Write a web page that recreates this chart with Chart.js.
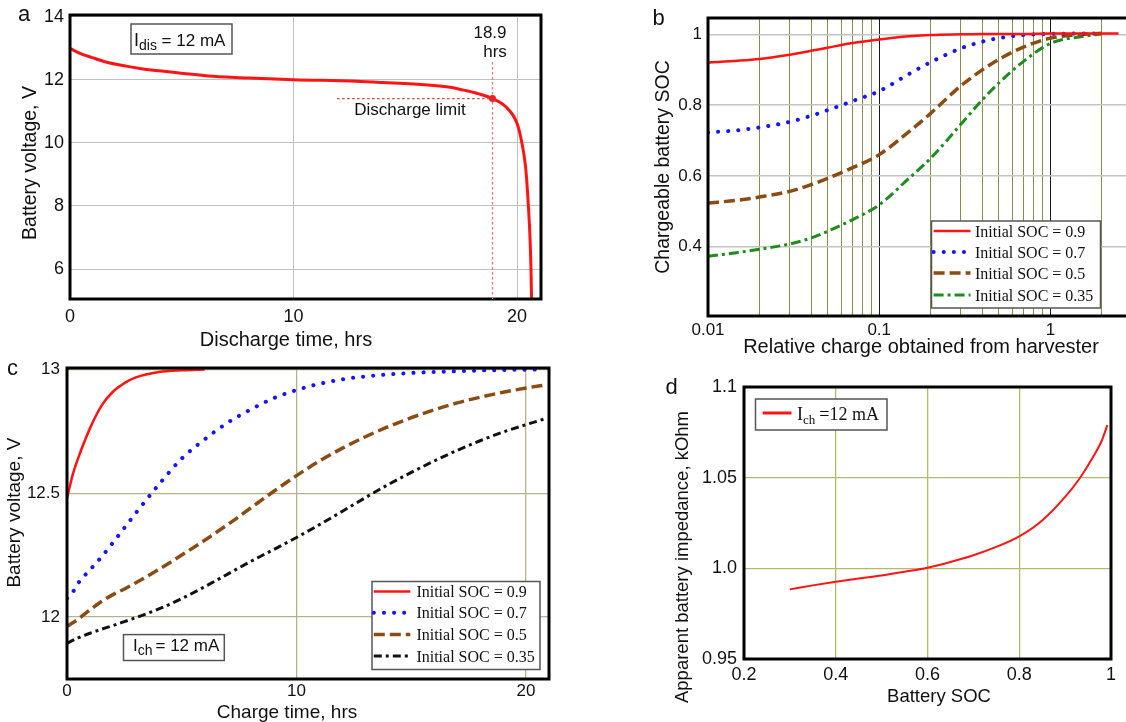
<!DOCTYPE html>
<html>
<head>
<meta charset="utf-8">
<script src="https://cdn.jsdelivr.net/npm/chart.js@4.4.1/dist/chart.umd.min.js"></script>
<style>
  html, body { margin: 0; padding: 0; background: #fff; }
  body { width: 1126px; height: 722px; overflow: hidden; position: relative; }
  canvas { position: absolute; }
</style>
</head>
<body>
<canvas id="panel-a" width="560" height="355" style="left:0;top:0"></canvas>
<canvas id="panel-b" width="580" height="362" style="left:560px;top:0"></canvas>
<canvas id="panel-c" width="560" height="367" style="left:0;top:355px"></canvas>
<canvas id="panel-d" width="566" height="367" style="left:560px;top:355px"></canvas>
<script>
"use strict";

/* ---------- a: discharge at 12 mA ---------- */
const dischargeTime = [0, 0.5, 1, 1.6, 2.5, 3.2, 4, 4.8, 6.4, 8, 10, 12.8, 14, 16, 17, 17.6, 18.3, 18.9, 19.5, 20, 20.22, 20.38, 20.49, 20.57, 20.62, 20.65];
const dischargeVoltage = [12.99, 12.82, 12.7, 12.56, 12.43, 12.35, 12.28, 12.22, 12.11, 12.05, 12.0, 11.95, 11.91, 11.83, 11.76, 11.67, 11.55, 11.40, 11.14, 10.61, 9.98, 9.24, 8.19, 7.13, 6.08, 5.0];
const limitTime = 18.9;
const limitVoltage = 11.4;
const limitLineStart = 11.95;
const aXTicks = [0, 10, 20];
const aYTicks = [6, 8, 10, 12, 14];

/* ---------- b: SOC vs relative harvested charge ---------- */
const harvestCharge = [0.01, 0.015, 0.02, 0.03, 0.04, 0.05, 0.07, 0.1, 0.15, 0.2, 0.3, 0.4, 0.5, 0.7, 1, 1.5, 2, 2.5];
const socFrom90 = [0.921, 0.926, 0.931, 0.943, 0.954, 0.963, 0.976, 0.986, 0.995, 0.999, 1.001, 1.002, 1.002, 1.002, 1.003, 1.003, 1.003, 1.003];
const socFrom70 = [0.723, 0.729, 0.737, 0.753, 0.770, 0.786, 0.812, 0.840, 0.889, 0.922, 0.961, 0.980, 0.990, 0.999, 1.002, 1.003, 1.003, null];
const socFrom50 = [0.523, 0.531, 0.540, 0.556, 0.575, 0.593, 0.623, 0.660, 0.726, 0.777, 0.855, 0.900, 0.930, 0.965, 0.990, 1.000, 1.004, null];
const socFrom35 = [0.372, 0.383, 0.392, 0.407, 0.424, 0.443, 0.476, 0.518, 0.594, 0.650, 0.746, 0.815, 0.863, 0.925, 0.975, 0.994, 1.002, null];
const bXTicks = [0.01, 0.1, 1];
const bYTicks = [0.4, 0.6, 0.8, 1];
const socLabels = ["Initial SOC = 0.9", "Initial SOC = 0.7", "Initial SOC = 0.5", "Initial SOC = 0.35"];

/* ---------- c: charging at 12 mA ---------- */
const chargeTime = [0, 0.25, 0.5, 1, 1.5, 2, 2.5, 3, 4, 5, 6, 7, 8, 9, 10, 11, 12, 13, 14, 15, 16, 17, 18, 19, 20, 20.8];
const voltFrom90 = [12.48, 12.575, 12.645, 12.762, 12.853, 12.91, 12.945, 12.968, 12.99, 12.997, 13.0, null, null, null, null, null, null, null, null, null, null, null, null, null, null, null];
const voltFrom70 = [12.075, 12.1, 12.138, 12.19, 12.242, 12.3, 12.36, 12.42, 12.535, 12.64, 12.718, 12.785, 12.838, 12.884, 12.917, 12.942, 12.96, 12.972, 12.98, 12.986, 12.99, 12.993, 12.996, 12.998, 12.999, 13.0];
const voltFrom50 = [11.962, 11.976, 11.992, 12.028, 12.062, 12.09, 12.113, 12.138, 12.192, 12.25, 12.31, 12.373, 12.44, 12.507, 12.571, 12.63, 12.682, 12.728, 12.769, 12.805, 12.837, 12.865, 12.888, 12.908, 12.925, 12.937];
const voltFrom35 = [11.893, 11.905, 11.916, 11.934, 11.95, 11.965, 11.981, 11.997, 12.032, 12.074, 12.122, 12.173, 12.224, 12.272, 12.321, 12.373, 12.427, 12.482, 12.535, 12.584, 12.63, 12.673, 12.712, 12.747, 12.777, 12.8];
const cXTicks = [0, 10, 20];
const cYTicks = [12, 12.5, 13];

/* ---------- d: apparent impedance ---------- */
const batterySoc = [0.3, 0.35, 0.4, 0.45, 0.5, 0.55, 0.6, 0.65, 0.7, 0.75, 0.8, 0.85, 0.9, 0.93, 0.96, 0.98, 0.992];
const impedance = [0.9884, 0.9906, 0.9926, 0.9944, 0.9961, 0.9981, 1.0003, 1.0035, 1.0072, 1.0118, 1.0176, 1.0264, 1.0394, 1.049, 1.061, 1.0705, 1.079];
const dXTicks = [0.2, 0.4, 0.6, 0.8, 1];
const dXLabels = ["0.2", "0.4", "0.6", "0.8", "1"];
const dYTicks = [0.95, 1.0, 1.05, 1.1];
const dYLabels = ["0.95", "1.0", "1.05", "1.1"];

/* ==========================================================
   helpers
   ========================================================== */
const SANS = '"Liberation Sans", Arial, sans-serif';
const SERIF = '"Liberation Serif", "Times New Roman", serif';
Chart.defaults.font.family = SANS;
Chart.defaults.color = "#111";
Chart.defaults.animation = false;

const styles = {
  red:   { borderColor: "#ff1414", borderWidth: 2.5 },
  blue:  { borderColor: "#1414ff", borderWidth: 4, borderDash: [0.1, 10], borderCapStyle: "round" },
  brown: { borderColor: "#8b4c14", borderWidth: 3.5, borderDash: [11, 5] },
  green: { borderColor: "#1f8c1f", borderWidth: 3, borderDash: [10, 4, 3, 4] },
  black: { borderColor: "#111111", borderWidth: 3, borderDash: [8, 4, 3, 4] },
};

function series(xs, ys, label, style) {
  return Object.assign({
    label,
    data: xs.map((x, i) => ({ x, y: ys[i] })),
    pointRadius: 0,
    fill: false,
    cubicInterpolationMode: "monotone",
  }, style);
}

// axis with fixed box size and explicit tick list
function axis(min, max, ticks, labels, o) {
  return {
    type: o.type || "linear",
    min, max,
    afterBuildTicks: (a) => { a.ticks = (o.grid || ticks).map(v => ({ value: v })); },
    afterFit: (s) => {
      if (s.isHorizontal()) s.height = o.size; else s.width = o.size;
      s.paddingLeft = s.paddingRight = s.paddingTop = s.paddingBottom = 0;
    },
    grid: { color: o.gridColor, lineWidth: o.gridWidth || 1, drawTicks: false },
    border: { display: false },
    ticks: {
      autoSkip: false, maxRotation: 0, padding: o.pad,
      font: { size: o.font },
      callback: (v) => { const i = ticks.indexOf(v); return i < 0 ? "" : labels[i]; },
    },
  };
}

function baseOptions(padding, x, y) {
  return {
    responsive: false,
    devicePixelRatio: 1,
    layout: { padding },
    plugins: { legend: { display: false }, tooltip: { enabled: false } },
    scales: { x, y },
  };
}

const frame = {
  id: "frame",
  afterDraw(chart) {
    const { ctx, chartArea: a } = chart;
    ctx.save();
    ctx.strokeStyle = "#000";
    ctx.lineWidth = 3;
    ctx.strokeRect(a.left, a.top, a.right - a.left, a.bottom - a.top);
    ctx.restore();
  }
};

function text(ctx, s, x, y, size, o = {}) {
  ctx.save();
  ctx.font = `${size}px ${o.family || SANS}`;
  ctx.fillStyle = "#111";
  ctx.textAlign = o.align || "center";
  ctx.textBaseline = "alphabetic";
  ctx.translate(x, y);
  if (o.rot) ctx.rotate(o.rot);
  ctx.fillText(s, 0, 0);
  ctx.restore();
}

// parts: [text, size, dy, gapBefore]
function richText(ctx, x, y, parts, family) {
  ctx.save();
  ctx.fillStyle = "#111";
  ctx.textAlign = "left";
  ctx.textBaseline = "alphabetic";
  for (const [t, size, dy, gap] of parts) {
    x += gap || 0;
    ctx.font = `${size}px ${family}`;
    ctx.fillText(t, x, y + (dy || 0));
    x += ctx.measureText(t).width;
  }
  ctx.restore();
}

function box(ctx, x, y, w, h) {
  ctx.save();
  ctx.fillStyle = "#fff";
  ctx.fillRect(x, y, w, h);
  ctx.strokeStyle = "#555";
  ctx.lineWidth = 1.5;
  ctx.strokeRect(x, y, w, h);
  ctx.restore();
}

function sampleLine(ctx, ds, x1, x2, y) {
  ctx.save();
  ctx.strokeStyle = ds.borderColor;
  ctx.lineWidth = ds.borderWidth;
  ctx.setLineDash(ds.borderDash || []);
  ctx.lineCap = ds.borderCapStyle || "butt";
  ctx.beginPath();
  ctx.moveTo(x1, y);
  ctx.lineTo(x2, y);
  ctx.stroke();
  ctx.restore();
}

function legendList(chart, o) {
  const ctx = chart.ctx;
  box(ctx, o.x, o.y, o.w, o.h);
  chart.data.datasets.forEach((ds, i) => {
    const y = o.rows[i];
    sampleLine(ctx, ds, o.x1, o.x2, y);
    text(ctx, ds.label, o.tx, y + 5.5, 16, { align: "left", family: SERIF });
  });
}

const rot = -Math.PI / 2;

/* ==========================================================
   a
   ========================================================== */
new Chart(document.getElementById("panel-a"), {
  type: "line",
  data: { datasets: [series(dischargeTime, dischargeVoltage, "Idis = 12 mA", { borderColor: "#ff1414", borderWidth: 3 })] },
  options: baseOptions(
    { left: 0, top: 15, right: 19, bottom: 0 },
    axis(0, 21.07, aXTicks, aXTicks.map(String), { size: 56, pad: 7, font: 18, gridColor: "#c0c0c0" }),
    axis(5.05, 14.05, aYTicks, aYTicks.map(String), { size: 70, pad: 6, font: 18, gridColor: "#c0c0c0" })
  ),
  plugins: [frame, {
    id: "decorA",
    afterDraw(chart) {
      const { ctx, chartArea: a, scales: { x, y } } = chart;
      const px = x.getPixelForValue(limitTime);
      const py = y.getPixelForValue(limitVoltage);
      ctx.save();
      ctx.lineWidth = 1.2;
      ctx.setLineDash([2.5, 2.5]);
      ctx.strokeStyle = "#ff6a6a";
      ctx.beginPath();
      ctx.moveTo(px, a.top + 47);
      ctx.lineTo(px, a.bottom);
      ctx.stroke();
      ctx.strokeStyle = "#d04848";
      ctx.beginPath();
      ctx.moveTo(x.getPixelForValue(limitLineStart), py);
      ctx.lineTo(px, py);
      ctx.stroke();
      ctx.setLineDash([]);
      ctx.fillStyle = "#ee2020";
      ctx.beginPath();
      ctx.arc(px, py, 3.5, 0, 2 * Math.PI);
      ctx.fill();
      ctx.restore();

      text(ctx, "18.9", 490, 38, 17);
      text(ctx, "hrs", 495, 57, 17);
      text(ctx, "Discharge limit", 410, 115, 17);

      box(ctx, 131, 24, 101, 30);
      richText(ctx, 134, 46, [["I", 18], ["dis", 14, 4], [" = 12 mA", 17]], SANS);

      text(ctx, "a", 18, 21, 22, { align: "left" });
      text(ctx, "Discharge time, hrs", 286, 346, 20);
      text(ctx, "Battery voltage, V", 35.5, 163, 19.5, { rot });
    }
  }]
});

/* ==========================================================
   b
   ========================================================== */
const bGridTicks = [0.01, 0.1, 1]
  .flatMap(d => [1, 2, 3, 4, 5, 6, 7, 8, 9].map(m => +(m * d).toPrecision(3)))
  .filter(v => v <= 2.84);

const bX = axis(0.01, 2.84, bXTicks, bXTicks.map(String), { type: "logarithmic", grid: bGridTicks, size: 46, pad: 4, font: 17 });
bX.grid.color = (c) => (c.tick && (c.tick.value === 0.1 || c.tick.value === 1)) ? "#1a1a1a" : "#8c8c4a";

new Chart(document.getElementById("panel-b"), {
  type: "line",
  data: {
    datasets: [
      series(harvestCharge, socFrom90, socLabels[0], styles.red),
      series(harvestCharge, socFrom70, socLabels[1], styles.blue),
      series(harvestCharge, socFrom50, socLabels[2], styles.brown),
      series(harvestCharge, socFrom35, socLabels[3], styles.green),
    ]
  },
  options: baseOptions(
    { left: 0, top: 18, right: 12, bottom: 0 },
    bX,
    axis(0.203, 1.047, bYTicks, bYTicks.map(String), { size: 148, pad: 6, font: 17, gridColor: "#c4c4c4", gridWidth: 1.5 })
  ),
  plugins: [frame, {
    id: "decorB",
    afterDraw(chart) {
      const ctx = chart.ctx;
      legendList(chart, { x: 371.5, y: 221, w: 169, h: 87, rows: [231, 252, 273, 295], x1: 373.6, x2: 410.5, tx: 415 });
      text(ctx, "b", 92.5, 25, 22, { align: "left" });
      text(ctx, "Relative charge obtained from harvester", 361, 353, 20);
      text(ctx, "Chargeable battery SOC", 109, 167, 19.5, { rot });
    }
  }]
});

/* ==========================================================
   c
   ========================================================== */
new Chart(document.getElementById("panel-c"), {
  type: "line",
  data: {
    datasets: [
      series(chargeTime, voltFrom90, socLabels[0], styles.red),
      series(chargeTime, voltFrom70, socLabels[1], styles.blue),
      series(chargeTime, voltFrom50, socLabels[2], styles.brown),
      series(chargeTime, voltFrom35, socLabels[3], styles.black),
    ]
  },
  options: baseOptions(
    { left: 0, top: 13, right: 11, bottom: 0 },
    axis(0, 21.0, cXTicks, cXTicks.map(String), { size: 43, pad: 2, font: 17, gridColor: "#b4b48a", gridWidth: 1.3 }),
    axis(11.749, 13.006, cYTicks, cYTicks.map(String), { size: 67, pad: 7, font: 17, gridColor: "#b4b48a", gridWidth: 1.3 })
  ),
  plugins: [frame, {
    id: "decorC",
    afterDraw(chart) {
      const ctx = chart.ctx;
      legendList(chart, { x: 372, y: 226.5, w: 168, h: 88, rows: [236.6, 257.8, 279.6, 301.1], x1: 373.8, x2: 410.3, tx: 416.4 });
      box(ctx, 123.5, 279.6, 100.8, 25.9);
      richText(ctx, 133, 295.5, [["I", 17], ["ch", 14, 4], ["= 12 mA", 17, 0, 3]], SANS);
      text(ctx, "c", 7, 20, 22, { align: "left" });
      text(ctx, "Charge time, hrs", 287, 363, 19);
      text(ctx, "Battery voltage, V", 19.8, 157.6, 19, { rot });
    }
  }]
});

/* ==========================================================
   d
   ========================================================== */
new Chart(document.getElementById("panel-d"), {
  type: "line",
  data: { datasets: [series(batterySoc, impedance, "Ich =12 mA", { borderColor: "#ff1414", borderWidth: 2 })] },
  options: baseOptions(
    { left: 0, top: 32, right: 15, bottom: 0 },
    axis(0.2, 1.0, dXTicks, dXLabels, { size: 63, pad: 5, font: 18, gridColor: "#b8b86a", gridWidth: 1.3 }),
    axis(0.95, 1.1, dYTicks, dYLabels, { size: 184, pad: 7, font: 18, gridColor: "#b8b86a", gridWidth: 1.3 })
  ),
  plugins: [frame, {
    id: "decorD",
    afterDraw(chart) {
      const ctx = chart.ctx;
      const ds = chart.data.datasets[0];
      box(ctx, 195.5, 44, 131.5, 31);
      sampleLine(ctx, Object.assign({}, ds, { borderWidth: 3 }), 202.7, 231.5, 58);
      richText(ctx, 237, 65, [["I", 18], ["ch", 13, 4], ["=12 mA", 18, 0, 4]], SERIF);
      text(ctx, "d", 105.5, 39, 22, { align: "left" });
      text(ctx, "Battery SOC", 379, 347, 18.5);
      text(ctx, "Apparent battery impedance, kOhm", 128, 202, 18.5, { rot });
    }
  }]
});
</script>
</body>
</html>
